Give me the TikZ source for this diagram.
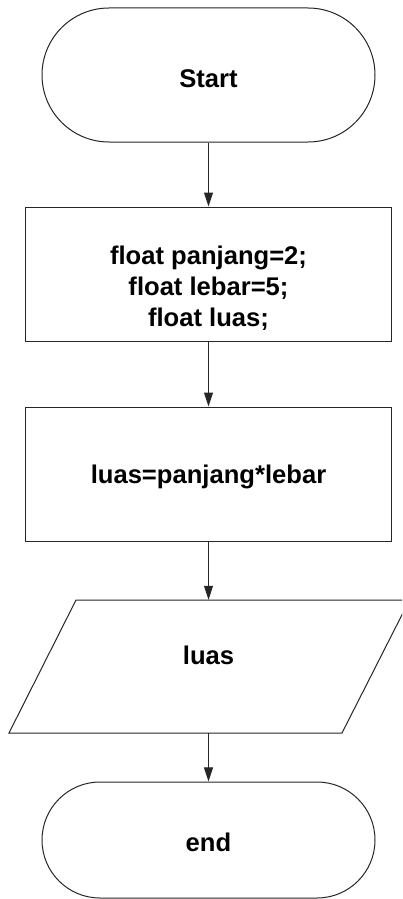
\documentclass[tikz,border=0pt]{standalone}
\usepackage{fontspec}
\setmainfont{Liberation Sans}
\usetikzlibrary{arrows.meta,shapes.misc,calc}
\begin{document}
\begin{tikzpicture}[x=1pt,y=-1pt,
  edge/.style={draw=black!85, line width=1pt},
  term/.style={rounded rectangle, edge, minimum width=333pt, inner sep=0pt},
  procbox/.style={rectangle, edge, minimum width=366pt, minimum height=134pt, inner sep=0pt},
  lbl/.style={font=\fontsize{25.6pt}{31pt}\selectfont\bfseries, align=center, inner sep=0pt},
  conn/.style={edge, -{Triangle[length=14pt,width=9pt]}}]
\useasboundingbox (0,0) rectangle (402,899);
\clip (0,0) rectangle (402,899);
\fill[white] (0,0) rectangle (402,899);

% start
\node[term, minimum height=134pt] (start) at (208.5,75) {};
\node[lbl] (tstart) at (208.5,79) {Start};

% declarations
\node[procbox] (b1) at (208.5,274) {};
\node[lbl] (tb1) at (208.5,288) {float panjang=2;\\float lebar=5;\\float luas;};

% computation
\node[procbox] (b2) at (208.5,474) {};
\node[lbl] (tb2) at (208.5,477) {luas=panjang*lebar};

% output parallelogram
\node[minimum width=333pt, minimum height=133pt, inner sep=0pt] (io) at (208.5,666.5) {};
\draw[edge] (76,600) -- (409.5,600) -- (342,733) -- (9,733) -- cycle;
\node[lbl] (tio) at (208.5,655) {luas};

% end
\node[term, minimum height=116pt] (stop) at (208.5,840) {};
\node[lbl] (tstop) at (208.5,842) {end};

% connectors
\draw[conn] (start) -- (b1);
\draw[conn] (b1) -- (b2);
\draw[conn] (b2) -- (io);
\draw[conn] (io) -- (stop);
\end{tikzpicture}
\end{document}
